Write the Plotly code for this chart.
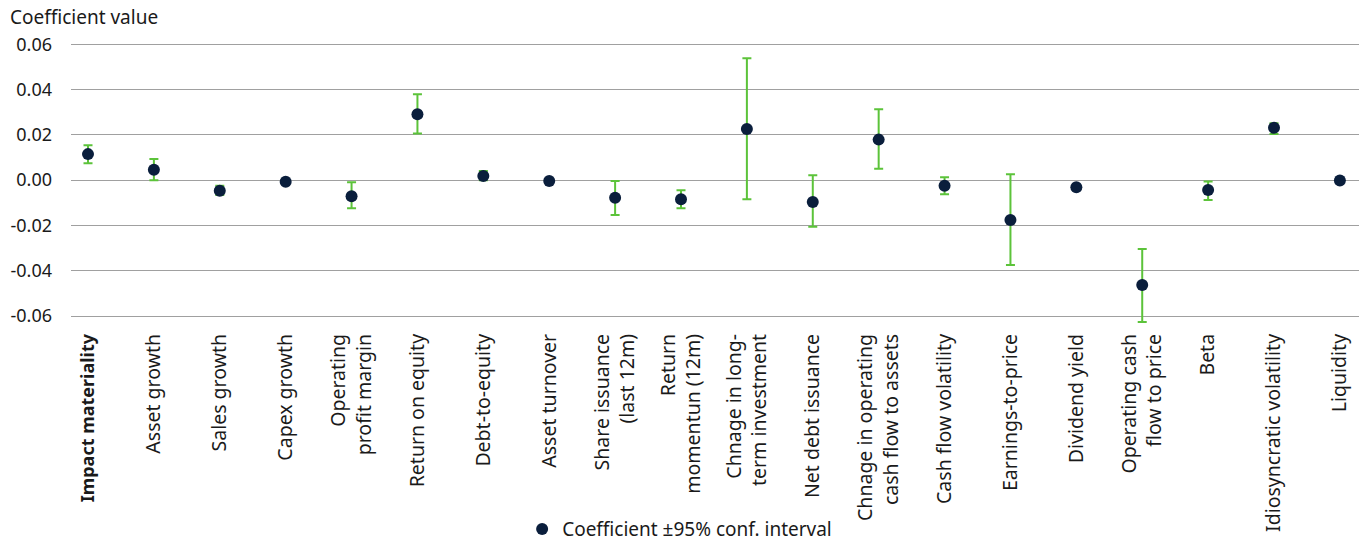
import plotly.graph_objects as go

categories = [
    "<span style='font-size:18px'><b>Impact materiality</b></span>", "Asset growth", "Sales growth", "Capex growth",
    "Operating<br>profit margin", "Return on equity", "Debt-to-equity", "Asset turnover",
    "Share issuance<br>(last 12m)", "Return<br>momentun (12m)", "Chnage in long-<br>term investment",
    "Net debt issuance", "Chnage in operating<br>cash flow to assets", "Cash flow volatility",
    "Earnings-to-price", "Dividend yield", "Operating cash<br>flow to price", "Beta",
    "Idiosyncratic volatility", "Liquidity",
]
coef = [0.0115, 0.0046, -0.0047, -0.0007, -0.0071, 0.0291, 0.0018, -0.0004,
        -0.0078, -0.0084, 0.0226, -0.0096, 0.0179, -0.0025, -0.0176, -0.0031,
        -0.0463, -0.0043, 0.0231, -0.0001]
upper = [0.0154, 0.0093, -0.0025, -0.0002, -0.0009, 0.0379, 0.0041, 0.0001,
         -0.0004, -0.0044, 0.0538, 0.0022, 0.0313, 0.0013, 0.0026, -0.0026,
         -0.0304, -0.0006, 0.0251, 0.0004]
lower = [0.0075, 0.0000, -0.0066, -0.0012, -0.0124, 0.0206, 0.0000, -0.0009,
         -0.0154, -0.0124, -0.0084, -0.0206, 0.0050, -0.0062, -0.0375, -0.0036,
         -0.0626, -0.0088, 0.0204, -0.0006]
y_ticks = [-0.06, -0.04, -0.02, 0.00, 0.02, 0.04, 0.06]
y_tick_labels = ["-0.06", "-0.04", "-0.02", "0.00", "0.02", "0.04", "0.06"]

err_plus = [u - c for u, c in zip(upper, coef)]
err_minus = [c - l for c, l in zip(coef, lower)]
x_idx = list(range(len(categories)))

fig = go.Figure()
fig.add_trace(go.Scatter(
    x=x_idx, y=coef, mode="markers", cliponaxis=False,
    name="Coefficient ±95% conf. interval",
    marker=dict(color="#0a1e3c", size=12),
    error_y=dict(type="data", symmetric=False, array=err_plus, arrayminus=err_minus,
                 color="#5cc33a", thickness=2, width=4.5),
))

fig.update_layout(
    width=1362, height=541,
    margin=dict(l=71, r=3, t=42, b=217, autoexpand=False),
    paper_bgcolor="white", plot_bgcolor="white",
    font=dict(family="Noto Sans", size=19, color="#1a1a1a"),
    showlegend=True,
    legend=dict(orientation="h", xref="container", yref="container",
                x=0.499, xanchor="center", y=0.022, yanchor="middle",
                font=dict(size=19), bgcolor="rgba(0,0,0,0)"),
    xaxis=dict(
        tickmode="array", tickvals=x_idx, ticktext=categories, tickangle=-90,
        range=[-0.258, 19.29], showgrid=False, zeroline=False, showline=False,
        ticks="", ticklabelstandoff=5, automargin=False,
        tickfont=dict(size=19.5, color="#1a1a1a"),
    ),
    yaxis=dict(
        range=[-0.0635, 0.061], tickmode="array", tickvals=y_ticks, ticktext=y_tick_labels,
        showgrid=True, gridcolor="#a0a0a0", gridwidth=1, zeroline=False,
        showline=False, ticks="", ticklabelstandoff=18, automargin=False,
        tickfont=dict(size=18, color="#1a1a1a"),
    ),
    annotations=[dict(text="Coefficient value", xref="paper", yref="paper",
                      x=-0.049, y=1.0, xanchor="left", yanchor="bottom", yshift=10,
                      showarrow=False, font=dict(size=19, color="#1a1a1a"))],
)

fig.write_html("out.html", config={"displayModeBar": False},
               post_script="document.body.style.margin='0';document.body.style.overflow='hidden';")
